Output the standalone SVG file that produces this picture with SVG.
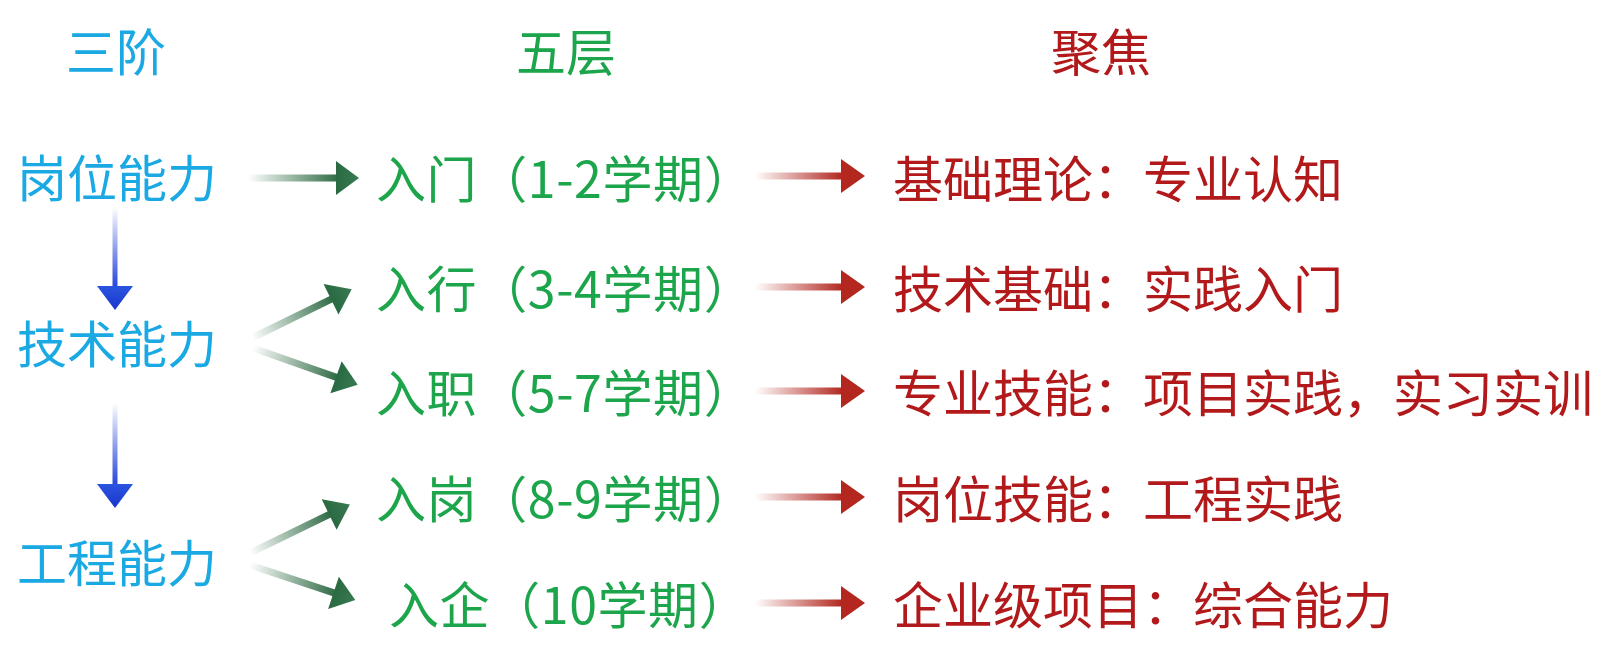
<svg xmlns="http://www.w3.org/2000/svg" width="1600" height="652" viewBox="0 0 1600 652">
  <style>
    text { font-family: "Noto Sans CJK SC", "Noto Sans", sans-serif; font-size: 50px; }
    .title { font-size: 50px; text-anchor: middle; }
    .blue { fill: #1AA9E3; }
    .green { fill: #1CA54B; }
    .red { fill: #B2191B; }
    .mid { text-anchor: start; letter-spacing: 0.6px; }
  </style>
  <defs>
    <linearGradient id="gShaft" x1="0" y1="0" x2="1" y2="0">
      <stop offset="0" stop-color="#2F6B45" stop-opacity="0"/>
      <stop offset="1" stop-color="#2F6B45" stop-opacity="1"/>
    </linearGradient>
    <linearGradient id="gHead" x1="0" y1="0" x2="1" y2="0">
      <stop offset="0" stop-color="#2A6A43"/>
      <stop offset="1" stop-color="#3A7A52"/>
    </linearGradient>
    <linearGradient id="rShaft" x1="0" y1="0" x2="1" y2="0">
      <stop offset="0" stop-color="#B2261E" stop-opacity="0"/>
      <stop offset="1" stop-color="#B2261E" stop-opacity="1"/>
    </linearGradient>
    <linearGradient id="bShaft" x1="0" y1="0" x2="0" y2="1">
      <stop offset="0" stop-color="#1E3FD8" stop-opacity="0"/>
      <stop offset="1" stop-color="#1E3FD8" stop-opacity="1"/>
    </linearGradient>
    <linearGradient id="bHead" x1="0" y1="0" x2="0" y2="1">
      <stop offset="0" stop-color="#2A55E0"/>
      <stop offset="1" stop-color="#1A35CC"/>
    </linearGradient>
    <g id="greenArrow">
      <rect x="0" y="-3.5" width="90" height="7" fill="url(#gShaft)"/>
      <polygon points="88,-17 111,0 88,17" fill="url(#gHead)"/>
    </g>
    <g id="redArrow">
      <rect x="0" y="-3.5" width="88" height="7" fill="url(#rShaft)"/>
      <polygon points="86,-17 110,0 86,17" fill="#B3271F"/>
    </g>
  </defs>

  <g id="titles">
    <text class="title blue" x="116" y="71">三阶</text>
    <text class="title green" x="566" y="71">五层</text>
    <text class="title red" x="1101" y="71">聚焦</text>
  </g>

  <g id="stage-1"><text class="blue" x="117" y="197" text-anchor="middle">岗位能力</text></g>
  <g id="stage-2"><text class="blue" x="117" y="363" text-anchor="middle">技术能力</text></g>
  <g id="stage-3"><text class="blue" x="117" y="582" text-anchor="middle">工程能力</text></g>

  <g id="layer-1"><text class="green mid" x="376" y="198">入门（1-2学期）</text></g>
  <g id="layer-2"><text class="green mid" x="376" y="308">入行（3-4学期）</text></g>
  <g id="layer-3"><text class="green mid" x="376" y="412">入职（5-7学期）</text></g>
  <g id="layer-4"><text class="green mid" x="376" y="518">入岗（8-9学期）</text></g>
  <g id="layer-5"><text class="green mid" x="389" y="624">入企（10学期）</text></g>

  <g id="focus-1"><text class="red" x="893" y="198">基础理论：专业认知</text></g>
  <g id="focus-2"><text class="red" x="893" y="308">技术基础：实践入门</text></g>
  <g id="focus-3"><text class="red" x="893" y="412">专业技能：项目实践，实习实训</text></g>
  <g id="focus-4"><text class="red" x="893" y="518">岗位技能：工程实践</text></g>
  <g id="focus-5"><text class="red" x="893" y="624">企业级项目：综合能力</text></g>

  <g id="connectors">
    <rect x="112.5" y="207" width="5" height="83" fill="url(#bShaft)"/>
    <polygon points="97,286 133,286 115,310" fill="url(#bHead)"/>
    <rect x="112.5" y="403" width="5" height="85" fill="url(#bShaft)"/>
    <polygon points="97,484 133,484 115,508" fill="url(#bHead)"/>

    <use href="#greenArrow" transform="translate(248,178)"/>
    <use href="#greenArrow" transform="translate(252,338) rotate(-26.1)"/>
    <use href="#greenArrow" transform="translate(253,348) rotate(19.4)"/>
    <use href="#greenArrow" transform="translate(250,553) rotate(-25.9)"/>
    <use href="#greenArrow" transform="translate(250,565) rotate(18.4)"/>

    <use href="#redArrow" transform="translate(755,176)"/>
    <use href="#redArrow" transform="translate(755,287)"/>
    <use href="#redArrow" transform="translate(755,391)"/>
    <use href="#redArrow" transform="translate(755,497)"/>
    <use href="#redArrow" transform="translate(755,603)"/>
  </g>
</svg>
